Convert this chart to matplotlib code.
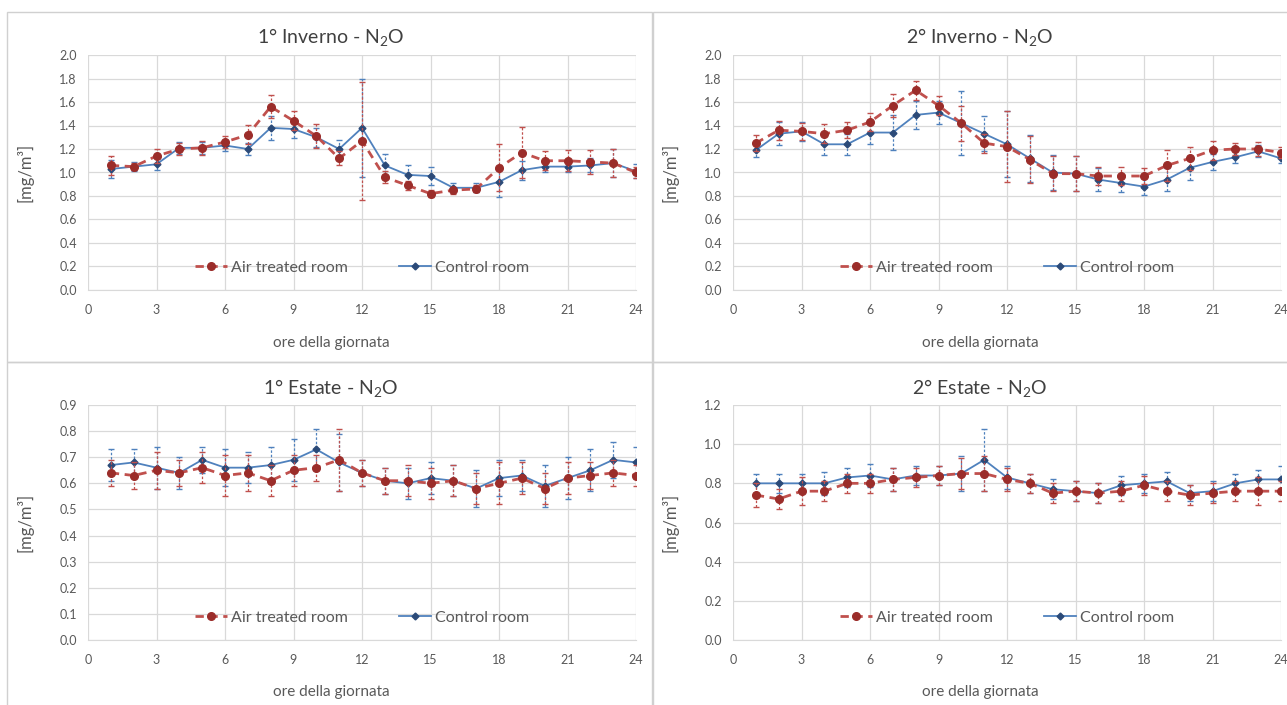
import matplotlib
matplotlib.use("Agg")
import matplotlib.pyplot as plt
from matplotlib.lines import Line2D
from matplotlib.patches import Rectangle
import numpy as np

plt.rcParams['font.family'] = ['Lato', 'DejaVu Sans']
plt.rcParams['mathtext.fontset'] = 'custom'
plt.rcParams['mathtext.rm'] = 'Lato'
plt.rcParams['mathtext.it'] = 'Lato:italic'

hours = list(range(1, 25))

# 1° Inverno
inv1_treated = [1.06, 1.05, 1.14, 1.20, 1.21, 1.26, 1.32, 1.56, 1.44, 1.31, 1.12, 1.27,
                0.96, 0.89, 0.82, 0.85, 0.86, 1.04, 1.17, 1.10, 1.10, 1.09, 1.08, 1.00]
inv1_treated_err = [0.08, 0.03, 0.06, 0.05, 0.06, 0.05, 0.08, 0.10, 0.08, 0.10, 0.06, 0.50,
                    0.05, 0.04, 0.03, 0.03, 0.03, 0.20, 0.22, 0.08, 0.09, 0.10, 0.12, 0.05]
inv1_control = [1.03, 1.05, 1.07, 1.21, 1.21, 1.23, 1.20, 1.38, 1.37, 1.30, 1.20, 1.38,
                1.06, 0.98, 0.97, 0.87, 0.87, 0.92, 1.02, 1.05, 1.05, 1.06, 1.08, 1.01]
inv1_control_err = [0.08, 0.04, 0.05, 0.05, 0.05, 0.05, 0.05, 0.10, 0.08, 0.08, 0.08, 0.42,
                    0.10, 0.08, 0.08, 0.04, 0.04, 0.13, 0.08, 0.05, 0.05, 0.06, 0.12, 0.06]

# 2° Inverno
inv2_treated = [1.25, 1.36, 1.35, 1.33, 1.36, 1.43, 1.57, 1.70, 1.57, 1.42, 1.25, 1.22,
                1.11, 0.99, 0.99, 0.97, 0.97, 0.97, 1.06, 1.12, 1.19, 1.20, 1.20, 1.17]
inv2_treated_err = [0.07, 0.08, 0.07, 0.08, 0.07, 0.08, 0.10, 0.08, 0.08, 0.15, 0.08, 0.30,
                    0.20, 0.15, 0.15, 0.08, 0.08, 0.07, 0.13, 0.10, 0.08, 0.05, 0.06, 0.05]
inv2_control = [1.19, 1.33, 1.35, 1.24, 1.24, 1.34, 1.34, 1.49, 1.51, 1.42, 1.33, 1.24,
                1.12, 1.00, 0.99, 0.94, 0.91, 0.88, 0.94, 1.04, 1.09, 1.13, 1.18, 1.12]
inv2_control_err = [0.06, 0.10, 0.08, 0.09, 0.09, 0.10, 0.15, 0.12, 0.10, 0.27, 0.15, 0.28,
                    0.20, 0.15, 0.15, 0.10, 0.08, 0.07, 0.10, 0.10, 0.07, 0.05, 0.05, 0.04]

# 1° Estate
est1_treated = [0.64, 0.63, 0.65, 0.64, 0.66, 0.63, 0.64, 0.61, 0.65, 0.66, 0.69, 0.64,
                0.61, 0.61, 0.60, 0.61, 0.58, 0.60, 0.62, 0.58, 0.62, 0.63, 0.64, 0.63]
est1_treated_err = [0.05, 0.05, 0.07, 0.05, 0.06, 0.08, 0.07, 0.06, 0.06, 0.05, 0.12, 0.05,
                    0.05, 0.06, 0.06, 0.06, 0.06, 0.08, 0.06, 0.06, 0.06, 0.05, 0.05, 0.04]
est1_control = [0.67, 0.68, 0.66, 0.64, 0.69, 0.66, 0.66, 0.67, 0.69, 0.73, 0.68, 0.64,
                0.61, 0.60, 0.62, 0.61, 0.58, 0.62, 0.63, 0.59, 0.62, 0.65, 0.69, 0.68]
est1_control_err = [0.06, 0.05, 0.08, 0.06, 0.05, 0.07, 0.06, 0.07, 0.08, 0.08, 0.11, 0.05,
                    0.05, 0.06, 0.06, 0.06, 0.07, 0.07, 0.06, 0.08, 0.08, 0.08, 0.07, 0.06]

# 2° Estate
est2_treated = [0.74, 0.72, 0.76, 0.76, 0.80, 0.80, 0.82, 0.83, 0.84, 0.85, 0.85, 0.82,
                0.80, 0.75, 0.76, 0.75, 0.76, 0.79, 0.76, 0.74, 0.75, 0.76, 0.76, 0.76]
est2_treated_err = [0.06, 0.05, 0.07, 0.05, 0.05, 0.05, 0.06, 0.05, 0.05, 0.08, 0.09, 0.06,
                    0.05, 0.05, 0.05, 0.05, 0.05, 0.05, 0.05, 0.05, 0.05, 0.05, 0.07, 0.05]
est2_control = [0.80, 0.80, 0.80, 0.80, 0.83, 0.84, 0.82, 0.84, 0.84, 0.85, 0.92, 0.83,
                0.80, 0.77, 0.76, 0.75, 0.79, 0.80, 0.81, 0.75, 0.76, 0.80, 0.82, 0.82]
est2_control_err = [0.05, 0.05, 0.05, 0.06, 0.05, 0.06, 0.06, 0.05, 0.05, 0.09, 0.16, 0.06,
                    0.05, 0.05, 0.05, 0.05, 0.05, 0.05, 0.05, 0.04, 0.05, 0.05, 0.05, 0.07]

titles = [r"1° Inverno - N$_2$O", r"2° Inverno - N$_2$O",
          r"1° Estate - N$_2$O", r"2° Estate - N$_2$O"]
ylims = [(2.0, 0.2), (2.0, 0.2), (0.9, 0.1), (1.2, 0.2)]
series = [
    (inv1_treated, inv1_treated_err, inv1_control, inv1_control_err),
    (inv2_treated, inv2_treated_err, inv2_control, inv2_control_err),
    (est1_treated, est1_treated_err, est1_control, est1_control_err),
    (est2_treated, est2_treated_err, est2_control, est2_control_err),
]
xticks = list(range(0, 25, 3))
legend_labels = ["Air treated room", "Control room"]
xlabel = "ore della giornata"
ylabel = "[mg/m³]"

RED = "#C0504D"
RED_DARK = "#9B2D2A"
BLUE = "#4F81BD"
BLUE_DARK = "#2B4A78"
TEXT = "#595959"
GRID = "#D9D9D9"

W, H = 1287, 705
fig = plt.figure(figsize=(W / 100, H / 100), dpi=100)


def px_axes(left, top, right, bottom):
    return fig.add_axes([left / W, 1 - bottom / H, (right - left) / W, (bottom - top) / H])


# chart-area frames
for (x0, y0, x1, y1) in [(7, 12, 652, 362), (653, 12, 1290, 362),
                         (7, 362, 652, 708), (653, 362, 1290, 708)]:
    fig.patches.append(Rectangle((x0 / W, 1 - y1 / H), (x1 - x0) / W, (y1 - y0) / H,
                                 transform=fig.transFigure, fill=False,
                                 edgecolor="#D0D0D0", linewidth=1.0))

# plot areas (pixels) and centres of the surrounding chart areas
boxes = [(88, 55, 636, 290), (733, 55, 1281, 290),
         (88, 405, 636, 640), (733, 405, 1281, 640)]
centres_x = [331, 980, 331, 980]
title_y = [37, 37, 388, 388]
xlabel_y = [343, 343, 692, 692]

for i, (box, title, (ymax, ystep), (tr, tr_err, ct, ct_err)) in enumerate(
        zip(boxes, titles, ylims, series)):
    ax = px_axes(*box)
    l, t, r_, b = box
    aw, ah = r_ - l, b - t
    ax.set_xlim(0, 24)
    ax.set_ylim(0, ymax)
    ax.set_xticks(xticks)
    ax.set_yticks(np.round(np.arange(0, ymax + 1e-9, ystep), 2))
    ax.yaxis.set_major_formatter(matplotlib.ticker.FormatStrFormatter('%.1f'))
    ax.grid(True, color=GRID, linewidth=0.9)
    ax.set_axisbelow(True)
    for s in ("top", "right", "left"):
        ax.spines[s].set_visible(False)
    ax.spines["bottom"].set_color(GRID)
    ax.tick_params(length=0, labelsize=9, colors=TEXT, pad=10)
    ax.tick_params(axis='y', pad=8)

    c = ax.errorbar(hours, ct, yerr=ct_err, color=BLUE, linewidth=1.3, linestyle='-',
                    marker='D', markersize=3.5, markerfacecolor=BLUE_DARK,
                    markeredgecolor=BLUE_DARK, ecolor=BLUE, elinewidth=0.9,
                    capsize=2, zorder=3)
    c[2][0].set_linestyle((0, (2, 1.5)))
    r = ax.errorbar(hours, tr, yerr=tr_err, color=RED, linewidth=2.0, linestyle=(0, (3, 2)),
                    marker='o', markersize=5.5, markerfacecolor=RED_DARK,
                    markeredgecolor=RED_DARK, ecolor=RED, elinewidth=0.9,
                    capsize=2, zorder=4)
    r[2][0].set_linestyle((0, (2, 1.5)))

    ax.text((centres_x[i] - l) / aw, (b - title_y[i]) / ah, title, transform=ax.transAxes,
            ha='center', va='center', fontsize=14, color="#404040")
    ax.set_xlabel(xlabel, fontsize=11, color=TEXT)
    ax.xaxis.set_label_coords((centres_x[i] - l) / aw, -(xlabel_y[i] - b) / ah)
    ax.xaxis.label.set_va('center')
    ax.set_ylabel(ylabel, fontsize=12, color=TEXT)
    ax.yaxis.set_label_coords((25 - 88) / aw, 0.5)
    ax.yaxis.label.set_va('center')

    handles = [
        Line2D([], [], color=RED, linewidth=2.0, linestyle=(0, (3, 2)), marker='o',
               markersize=5.5, markerfacecolor=RED_DARK, markeredgecolor=RED_DARK),
        Line2D([], [], color=BLUE, linewidth=1.3, marker='D', markersize=3.5,
               markerfacecolor=BLUE_DARK, markeredgecolor=BLUE_DARK),
    ]
    ax.legend(handles, legend_labels, loc='center', bbox_to_anchor=(0.5, 0.094), ncol=2,
              frameon=False, fontsize=11.5, labelcolor=TEXT, handlelength=2.0,
              handletextpad=0.25, columnspacing=3.2)

fig.savefig("out.png", dpi=100, facecolor="white")
